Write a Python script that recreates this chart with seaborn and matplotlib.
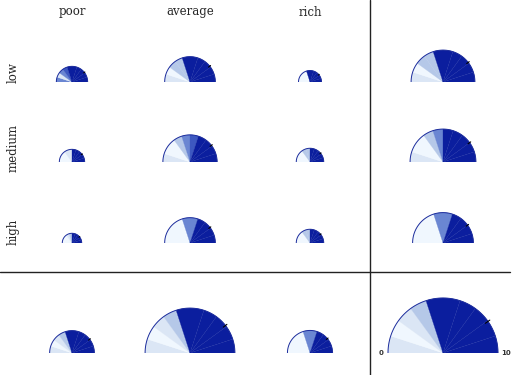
import numpy as np
import matplotlib
matplotlib.use("Agg")
import matplotlib.pyplot as plt
from matplotlib.lines import Line2D
import seaborn as sns

sns.set_style("white")

# categories
cols = ["poor", "average", "rich"]
rows = ["low", "medium", "high"]
bin_edges = np.arange(0, 11)  # the 0..10 scale, split in 10 wedges

# counts per cell (area of a glyph ~ count)
counts_low = [26, 68, 14]
counts_medium = [17, 78, 20]
counts_high = [10, 68, 20]

# shade level of each of the 10 wedges: poor, average, rich, row margin
shades_low = [
    [3, 1, 3, 4, 5, 5, 5, 5, 5, 5],
    [1, 0, 2, 2, 5, 5, 5, 5, 5, 5],
    [0, 0, 0, 0, 5, 5, 5, 5, 5, 5],
    [1, 0, 2, 2, 5, 5, 5, 5, 5, 5],
]
shades_medium = [
    [0, 0, 0, 1, 1, 5, 5, 5, 5, 5],
    [1, 0, 0, 2, 3, 4, 5, 5, 5, 5],
    [0, 0, 0, 2, 2, 5, 5, 5, 5, 5],
    [1, 0, 0, 2, 3, 5, 5, 5, 5, 5],
]
shades_high = [
    [0, 0, 0, 1, 2, 5, 5, 5, 5, 5],
    [0, 0, 0, 0, 3, 3, 5, 5, 5, 5],
    [0, 0, 0, 2, 2, 5, 5, 5, 5, 5],
    [0, 0, 0, 0, 3, 3, 5, 5, 5, 5],
]
# column margins: poor, average, rich, grand total
shades_total = [
    [1, 0, 1, 2, 5, 5, 5, 5, 5, 5],
    [1, 0, 1, 2, 5, 5, 5, 5, 5, 5],
    [0, 0, 0, 0, 3, 3, 5, 5, 5, 5],
    [1, 0, 1, 2, 5, 5, 5, 5, 5, 5],
]

# mean marks on the rim
means_low = [7.9, 7.85, 7.8, 7.9]
means_medium = [7.9, 7.9, 7.8, 8.0]
means_high = [7.8, 7.9, 7.8, 8.0]
means_total = [7.9, 7.9, 7.8, 8.05]

palette = sns.color_palette(["#f0f7fe", "#dbe6f5", "#b5c8e8",
                             "#6a86d2", "#3d58c0", "#0b1e9e"])

W, H = 520, 375
col_x = [72, 190, 310, 443]
row_base = [82, 162, 243, 353]
R_PX = 60

count_rows = [counts_low, counts_medium, counts_high]
col_totals = [sum(c[j] for c in count_rows) for j in range(3)]
grand = sum(col_totals)
counts_all = [c + [sum(c)] for c in count_rows] + [col_totals + [grand]]
shades_all = [shades_low, shades_medium, shades_high, shades_total]
means_all = [means_low, means_medium, means_high, means_total]

r_max = np.sqrt(grand) * R_PX / 55

fig = plt.figure(figsize=(5.2, 3.75), dpi=100)


def glyph(cx, base, n, shades, mean, end_labels=False):
    # square box: the half disc is fitted to its width and centred vertically
    ax = fig.add_axes([(cx - R_PX) / W, (H - base - 0.5 * R_PX) / H,
                       2 * R_PX / W, 2 * R_PX / H], projection="polar")
    ax.set_theta_zero_location("W")
    ax.set_theta_direction(-1)
    ax.set_thetamin(0)
    ax.set_thetamax(180)
    ax.set_rlim(0, r_max)
    theta = np.pi * bin_edges[:-1] / 10
    r = np.sqrt(n)
    wedge_colors = [palette[s] for s in shades]
    ax.bar(theta, r, width=np.pi / 10, align="edge",
           color=wedge_colors, edgecolor=wedge_colors, linewidth=0.2)
    arc = np.linspace(0, np.pi, 100)
    ax.plot(arc, np.full_like(arc, r), color="#1c2c9c", lw=0.7)
    tm = np.pi * mean / 10
    ax.plot([tm, tm], [r * 0.94, r * 1.04], color="black", lw=0.8, clip_on=False)
    if end_labels:
        ax.text(0, r * 1.13, "0", fontsize=5, fontweight="bold", color="#333333",
                ha="center", va="center", clip_on=False)
        ax.text(np.pi, r * 1.15, "10", fontsize=5, fontweight="bold", color="#333333",
                ha="center", va="center", clip_on=False)
    ax.axis("off")


for i in range(4):
    for j in range(4):
        glyph(col_x[j], row_base[i], counts_all[i][j], shades_all[i][j],
              means_all[i][j], end_labels=(i == 3 and j == 3))

# headers
for j, name in enumerate(cols):
    fig.text(col_x[j] / W, 1 - 12 / H, name, family="DejaVu Serif",
             fontsize=8.5, ha="center", va="center")
for y, name in zip([73, 148, 232], rows):
    fig.text(13 / W, 1 - y / H, name, family="DejaVu Serif", fontsize=8.5,
             rotation=90, ha="center", va="center")

# dividers
fig.add_artist(Line2D([370 / W, 370 / W], [0, 1], color="#222222", lw=1))
fig.add_artist(Line2D([0, 510 / W], [1 - 272 / H, 1 - 272 / H], color="#222222", lw=1))

fig.savefig("out.png", dpi=100)
